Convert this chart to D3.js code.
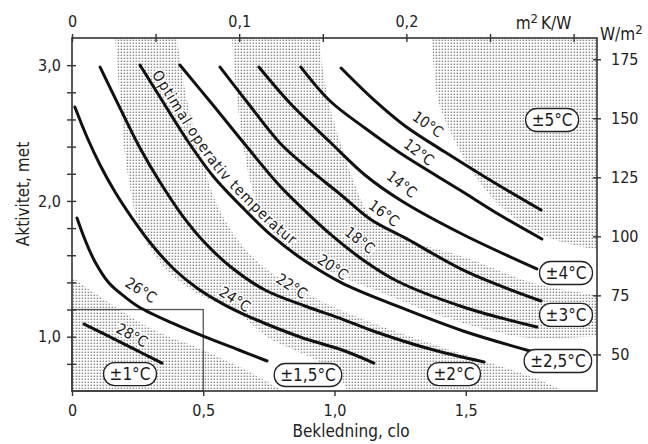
<!DOCTYPE html>
<html><head><meta charset="utf-8">
<script src="https://cdn.jsdelivr.net/npm/d3@7"></script>
<style>
html,body{margin:0;padding:0;background:#fff;}
svg{display:block;}
</style></head><body>
<svg id="chart" width="648" height="444"></svg>
<script>
// ---------- data (clo, met) ----------
const temperatures = [10, 12, 14, 16, 18, 20, 22, 24, 26, 28];
const t10 = [[1.025,2.979],[1.147,2.750],[1.269,2.552],[1.421,2.360],[1.592,2.154],[1.787,1.933]];
const t12 = [[0.872,2.986],[0.983,2.736],[1.116,2.537],[1.250,2.353],[1.478,2.080],[1.630,1.896],[1.790,1.720]];
const t14 = [[0.712,2.986],[0.830,2.721],[0.983,2.434],[1.116,2.191],[1.250,2.007],[1.478,1.764],[1.771,1.499]];
const t16 = [[0.564,2.986],[0.667,2.729],[0.792,2.427],[0.907,2.228],[1.021,2.051],[1.135,1.867],[1.276,1.720],[1.505,1.477],[1.787,1.263]];
const t18 = [[0.411,3.001],[0.537,2.706],[0.667,2.397],[0.792,2.110],[0.888,1.926],[0.983,1.757],[1.109,1.565],[1.238,1.410],[1.490,1.219],[1.771,1.071]];
const t20 = [[0.259,3.001],[0.335,2.765],[0.438,2.449],[0.537,2.184],[0.659,1.933],[0.762,1.742],[0.888,1.557],[1.029,1.395],[1.238,1.226],[1.490,1.042],[1.745,0.895]];
const t22 = [[0.107,2.986],[0.183,2.684],[0.259,2.390],[0.335,2.139],[0.419,1.896],[0.507,1.690],[0.610,1.506],[0.735,1.344],[0.888,1.226],[1.029,1.130],[1.147,1.042],[1.364,0.909],[1.570,0.814]];
const t24 = [[0.011,2.692],[0.057,2.471],[0.107,2.265],[0.164,2.066],[0.229,1.874],[0.305,1.675],[0.392,1.491],[0.476,1.359],[0.583,1.233],[0.678,1.145],[0.869,0.998],[1.029,0.902],[1.150,0.806]];
const t26 = [[0.019,1.874],[0.050,1.712],[0.088,1.550],[0.141,1.395],[0.202,1.292],[0.255,1.219],[0.381,1.101],[0.507,0.998],[0.636,0.902],[0.743,0.821]];
const t28 = [[0.046,1.093],[0.118,1.024],[0.190,0.954],[0.266,0.880],[0.343,0.806]];

// tolerance zone boundaries (clo, met)
const b1 = [[0,1.440],[0.126,1.270],[0.297,1.064],[0.499,0.902],[0.678,0.740],[0.804,0.6]];
const b2 = [[0.164,3.2],[0.183,2.743],[0.210,2.228],[0.259,1.801],[0.354,1.506],[0.488,1.307],[0.629,1.182],[0.743,0.998],[0.907,0.850],[1.002,0.740],[1.050,0.6]];
const b3 = [[0.400,3.2],[0.438,2.743],[0.488,2.375],[0.545,2.007],[0.632,1.712],[0.735,1.506],[0.869,1.344],[1.040,1.182],[1.250,1.027],[1.440,0.902],[1.630,0.784],[1.783,0.681],[1.874,0.6]];
const b4 = [[0.610,3.2],[0.629,2.743],[0.667,2.250],[0.724,1.896],[0.830,1.639],[0.983,1.476],[1.173,1.329],[1.364,1.182],[1.554,1.064],[1.745,0.990],[2.0,1.005]];
const b5 = [[0.945,3.2],[0.956,2.964],[0.990,2.633],[1.032,2.375],[1.078,2.117],[1.135,1.896],[1.250,1.734],[1.505,1.580],[1.756,1.395],[2.0,1.307]];
const b6 = [[1.371,3.2],[1.394,2.743],[1.444,2.500],[1.497,2.301],[1.554,2.132],[1.669,1.896],[1.810,1.734],[2.0,1.639]];

const toleranceTexts = ["±1°C","±1,5°C","±2°C","±2,5°C","±3°C","±4°C","±5°C"];

// ticks
const cloTicks = [0, 0.5, 1.0, 1.5];
const metTicks = [0.8, 1.0, 1.2, 1.4, 1.6, 1.8, 2.0, 2.2, 2.4, 2.6, 2.8, 3.0];
const metLabels = [1.0, 2.0, 3.0];
const resTicks = [0, 0.05, 0.1, 0.15, 0.2, 0.25, 0.3];
const resLabels = [0, 0.1, 0.2];
const wattTicks = [50, 75, 100, 125, 150, 175];

// ---------- layout / annotations ----------
const FONT = '"DejaVu Sans Condensed","DejaVu Sans",sans-serif';
const CLO_TO_RES = 0.157, MET_TO_W = 57.5;
const curveSets = [t10,t12,t14,t16,t18,t20,t22,t24,t26,t28].map((pts,i)=>({temp:temperatures[i], pts}));
const tempLabelPos = [
  {at:[1.356,2.566], rot:35},{at:[1.322,2.360], rot:37},{at:[1.257,2.125], rot:38},
  {at:[1.189,1.911], rot:36},{at:[1.097,1.712], rot:38},{at:[0.994,1.513], rot:35},
  {at:[0.838,1.373], rot:33},{at:[0.621,1.278], rot:33},{at:[0.263,1.344], rot:33},
  {at:[0.229,1.012], rot:29}];
const tolPos = [[0.221,0.725],[0.899,0.718],[1.455,0.725],[1.851,0.821],[1.882,1.160],[1.882,1.469],[1.829,2.596]];

const svg = d3.select("#chart");
const x = d3.scaleLinear().domain([0,2]).range([72,597]);
const y = d3.scaleLinear().domain([0.6,3.2]).range([391,38]);
const xTop = d3.scaleLinear().domain([0, 2*CLO_TO_RES]).range([72,597]);
const yRight = d3.scaleLinear().domain([0.6*MET_TO_W, 3.2*MET_TO_W]).range([391,38]);
const comma = d => d===0 ? "0" : d3.format(".1f")(d).replace(".",",");

const defs = svg.append("defs");
const pat = defs.append("pattern").attr("id","stipple").attr("patternUnits","userSpaceOnUse").attr("width",3).attr("height",3);
pat.append("rect").attr("x",0.6).attr("y",0.6).attr("width",1.5).attr("height",1.4).attr("fill","#8c8c8c");
defs.append("clipPath").attr("id","plotclip").append("rect").attr("x",72).attr("y",38).attr("width",525).attr("height",353);

const smooth = d3.line().x(d=>x(d[0])).y(d=>y(d[1])).curve(d3.curveCatmullRom.alpha(0.5));
const join = (a,b) => smooth(a) + "L" + smooth(b).slice(1) + "Z";

const zones = [
  smooth(b1) + `L${x(0)},${y(0.6)}Z`,
  join(b2, b3.slice().reverse()),
  join(b4, b5.slice().reverse()),
  smooth(b6) + `L${x(2)},${y(3.2)}Z`
];
svg.append("g").attr("clip-path","url(#plotclip)")
  .selectAll("path").data(zones).join("path")
  .attr("d", d=>d).attr("fill","url(#stipple)");

// small box
svg.append("rect").attr("x",x(0)).attr("y",y(1.2)).attr("width",x(0.5)-x(0)).attr("height",y(0.6)-y(1.2))
  .attr("fill","none").attr("stroke","#555").attr("stroke-width",1.3);

// temperature labels
svg.append("g").selectAll("text").data(curveSets).join("text")
  .attr("transform",(d,i)=>`translate(${x(tempLabelPos[i].at[0])},${y(tempLabelPos[i].at[1])}) rotate(${tempLabelPos[i].rot})`)
  .attr("text-anchor","middle").attr("dy","0.36em")
  .attr("font-family",FONT).attr("font-size",15).attr("fill","#1a1a1a")
  .attr("stroke","#fff").attr("stroke-width",3).attr("paint-order","stroke")
  .text(d=>`${d.temp}°C`);

// text along 20 °C curve
defs.append("path").attr("id","p20").attr("d", smooth(t20));
const tp = svg.append("text").attr("font-family",FONT).attr("font-size",15).attr("fill","#1a1a1a")
  .attr("stroke","#fff").attr("stroke-width",3).attr("paint-order","stroke").attr("dy",-5)
  .append("textPath").attr("href","#p20").attr("startOffset",14).text("Optimal operativ temperatur");
{
  const natural = tp.node().getComputedTextLength();
  const target = 224, n = "Optimal operativ temperatur".length;
  tp.attr("letter-spacing", ((target-natural)/(n-1)).toFixed(2));
}

// curves
svg.append("g").selectAll("path").data(curveSets).join("path")
  .attr("d", d=>smooth(d.pts)).attr("fill","none").attr("stroke","#111")
  .attr("stroke-width",3).attr("stroke-linecap","round");

// frame
svg.append("rect").attr("x",72).attr("y",38).attr("width",525).attr("height",353)
  .attr("fill","none").attr("stroke","#333").attr("stroke-width",1.6);

// axes
function styleAxis(g){
  g.select(".domain").remove();
  g.attr("font-family",FONT).attr("font-size",16);
  g.selectAll(".tick text").attr("fill","#222");
  g.selectAll(".tick line").attr("stroke","#333").attr("stroke-width",1.4);
}
const gL = svg.append("g").attr("transform","translate(72,0)")
  .call(d3.axisLeft(y).tickValues(metTicks).tickSize(5).tickPadding(6).tickFormat(d=>metLabels.includes(d)?comma(d):""));
styleAxis(gL); gL.selectAll(".tick line").attr("x1",4).attr("x2",-5);

const gB = svg.append("g").attr("transform","translate(0,391)")
  .call(d3.axisBottom(x).tickValues(cloTicks).tickSize(5).tickPadding(9).tickFormat(comma));
styleAxis(gB);

const gT = svg.append("g").attr("transform","translate(0,38)")
  .call(d3.axisTop(xTop).tickValues(resTicks).tickSize(4).tickPadding(7).tickFormat(d=>resLabels.includes(d)?comma(d):""));
styleAxis(gT); gT.selectAll(".tick line").attr("y1",4).attr("y2",-4);

const gR = svg.append("g").attr("transform","translate(597,0)")
  .call(d3.axisRight(yRight).tickValues(wattTicks).tickSize(4).tickPadding(10).tickFormat(d3.format("d")));
styleAxis(gR); gR.selectAll(".tick line").attr("x1",-4).attr("x2",4);

// unit labels
const u1 = svg.append("text").attr("x",xTop(0.282)).attr("y",29).attr("text-anchor","middle")
  .attr("font-family",FONT).attr("font-size",17).attr("fill","#222");
u1.append("tspan").text("m");
u1.append("tspan").attr("dy",-6).attr("font-size",13).text("2");
u1.append("tspan").attr("dy",6).text("\u2009K/W");
const u2 = svg.append("text").attr("x",600).attr("y",40).attr("text-anchor","start")
  .attr("font-family",FONT).attr("font-size",17).attr("fill","#222");
u2.append("tspan").text("W/m");
u2.append("tspan").attr("dy",-6).attr("font-size",13).text("2");
svg.append("text").attr("x",351).attr("y",437).attr("text-anchor","middle")
  .attr("font-family",FONT).attr("font-size",17).attr("fill","#222").text("Bekledning, clo");
svg.append("text").attr("transform","translate(29,194) rotate(-90)").attr("text-anchor","middle")
  .attr("font-family",FONT).attr("font-size",17).attr("fill","#222").text("Aktivitet, met");

// tolerance badges
const tg = svg.append("g").selectAll("g").data(toleranceTexts).join("g")
  .attr("transform",(d,i)=>`translate(${x(tolPos[i][0])},${y(tolPos[i][1])})`);
tg.append("rect");
tg.append("text").attr("text-anchor","middle").attr("dy","0.36em")
  .attr("font-family",FONT).attr("font-size",17).attr("fill","#1a1a1a").text(d=>d);
tg.each(function(){
  const g = d3.select(this);
  const w = g.select("text").node().getComputedTextLength() + 12;
  g.select("rect").attr("x",-w/2).attr("y",-11.5).attr("width",w).attr("height",23)
    .attr("rx",11).attr("fill","#fff").attr("stroke","#222").attr("stroke-width",1.3);
});
</script>
</body></html>
